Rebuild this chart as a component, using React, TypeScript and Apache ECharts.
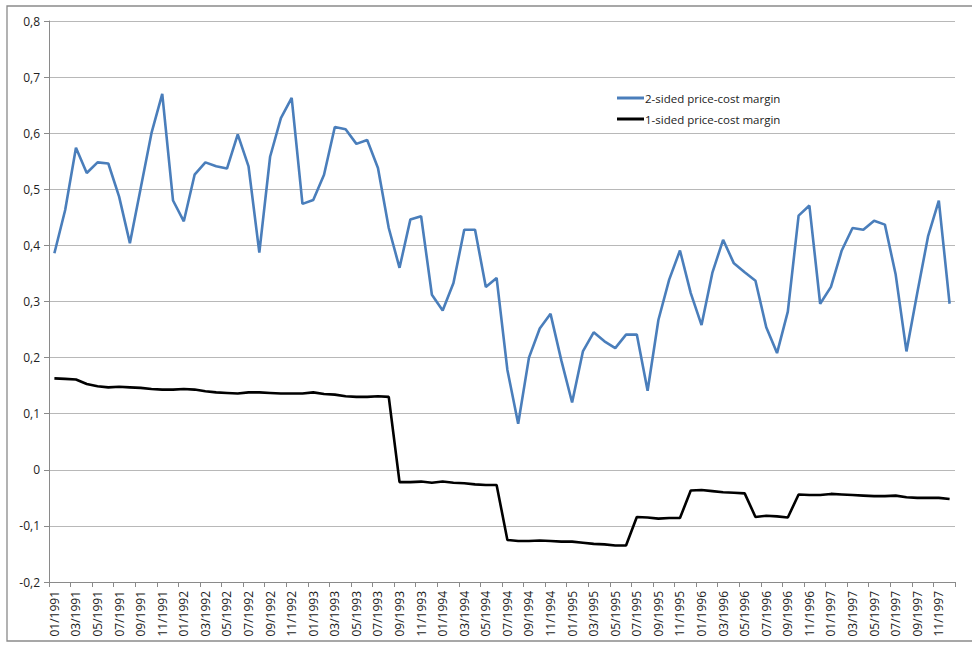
import React, { useEffect, useRef } from "react";
import * as echarts from "echarts";

const months: string[] = [];
for (let y = 1991; y <= 1997; y++) {
  for (let m = 1; m <= 12; m++) months.push(String(m).padStart(2, "0") + "/" + y);
}

const twoSided = [
  0.386, 0.463, 0.574, 0.529, 0.548, 0.546, 0.487, 0.404, 0.502, 0.6, 0.67, 0.48,
  0.443, 0.526, 0.548, 0.541, 0.537, 0.598, 0.541, 0.387, 0.558, 0.627, 0.663, 0.474,
  0.481, 0.526, 0.611, 0.607, 0.581, 0.588, 0.538, 0.431, 0.36, 0.446, 0.452, 0.312,
  0.284, 0.333, 0.428, 0.428, 0.326, 0.342, 0.178, 0.082, 0.2, 0.252, 0.278, 0.195,
  0.12, 0.211, 0.245, 0.229, 0.217, 0.241, 0.241, 0.141, 0.267, 0.339, 0.391, 0.315,
  0.258, 0.351, 0.41, 0.368, 0.352, 0.337, 0.254, 0.208, 0.282, 0.453, 0.471, 0.296,
  0.326, 0.391, 0.431, 0.428, 0.444, 0.437, 0.348, 0.211, 0.315, 0.416, 0.48, 0.296,
];

const oneSided = [
  0.163, 0.162, 0.161, 0.153, 0.149, 0.147, 0.148, 0.147, 0.146, 0.144, 0.143, 0.143,
  0.144, 0.143, 0.14, 0.138, 0.137, 0.136, 0.138, 0.138, 0.137, 0.136, 0.136, 0.136,
  0.138, 0.135, 0.134, 0.131, 0.13, 0.13, 0.131, 0.13, -0.022, -0.022, -0.021, -0.023,
  -0.021, -0.023, -0.024, -0.026, -0.027, -0.027, -0.125, -0.127, -0.127, -0.126, -0.127, -0.128,
  -0.128, -0.13, -0.132, -0.133, -0.135, -0.135, -0.084, -0.085, -0.087, -0.086, -0.086, -0.037,
  -0.036, -0.038, -0.04, -0.041, -0.042, -0.084, -0.082, -0.083, -0.085, -0.044, -0.045, -0.045,
  -0.043, -0.044, -0.045, -0.046, -0.047, -0.047, -0.046, -0.049, -0.05, -0.05, -0.05, -0.052,
];

const seriesNames = ["2-sided price-cost margin", "1-sided price-cost margin"];

export default function App() {
  const ref = useRef<HTMLDivElement>(null);
  useEffect(() => {
    if (!ref.current) return;
    const chart = echarts.init(ref.current, null, { renderer: "svg" });
    const font = "'Open Sans', 'Liberation Sans', sans-serif";
    chart.setOption({
      animation: false,
      backgroundColor: "#ffffff",
      grid: { left: 49, right: 17, top: 21, bottom: 64, containLabel: false },
      graphic: [
        {
          type: "rect",
          shape: { x: 7, y: 6, width: 980, height: 635 },
          style: { fill: "none", stroke: "#8a8a8a", lineWidth: 1.3 },
          silent: true,
          z: -1,
        },
      ],
      legend: {
        orient: "vertical",
        left: 612,
        top: 87,
        itemWidth: 27,
        itemHeight: 3,
        itemGap: 9,
        icon: "rect",
        textStyle: { fontFamily: font, fontSize: 11.5, color: "#222", padding: [0, 0, 0, -4] },
        data: seriesNames,
      },
      xAxis: {
        type: "category",
        data: months,
        boundaryGap: true,
        axisLine: { onZero: false, lineStyle: { color: "#8a8a8a", width: 1 } },
        axisTick: { show: true, interval: 1, length: 5, lineStyle: { color: "#8a8a8a" } },
        axisLabel: {
          interval: 1,
          rotate: 90,
          margin: 9,
          fontFamily: font,
          fontSize: 12,
          color: "#1a1a1a",
        },
        splitLine: { show: false },
      },
      yAxis: {
        type: "value",
        min: -0.2,
        max: 0.8,
        interval: 0.1,
        axisLine: { show: true, lineStyle: { color: "#8a8a8a", width: 1 } },
        axisTick: { show: true, length: 5, lineStyle: { color: "#8a8a8a" } },
        axisLabel: {
          margin: 9,
          fontFamily: font,
          fontSize: 12,
          color: "#222",
          formatter: (v: number) => {
            const r = Math.round(v * 10) / 10;
            if (r === 0) return "0";
            return r.toFixed(1).replace(".", ",");
          },
        },
        splitLine: { show: true, lineStyle: { color: "#b8b8b8", width: 1 } },
      },
      series: [
        {
          name: seriesNames[0],
          type: "line",
          data: twoSided,
          showSymbol: false,
          symbol: "none",
          lineStyle: { color: "#4a7ebb", width: 2.6 },
          itemStyle: { color: "#4a7ebb" },
        },
        {
          name: seriesNames[1],
          type: "line",
          data: oneSided,
          showSymbol: false,
          symbol: "none",
          lineStyle: { color: "#000000", width: 2.6 },
          itemStyle: { color: "#000000" },
        },
      ],
    });
    return () => chart.dispose();
  }, []);
  return (
    <div
      ref={ref}
      style={{ position: "absolute", left: 0, top: 0, width: 972, height: 646 }}
    />
  );
}
